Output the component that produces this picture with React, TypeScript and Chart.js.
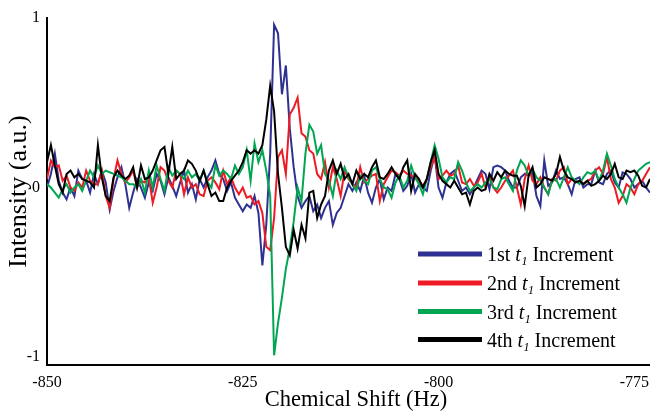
import React, { useEffect, useRef } from 'react';
import { Chart, registerables } from 'chart.js';

Chart.register(...registerables);

// Chemical shift grid (Hz): evenly sampled spectrum
const shiftStart = -850;
const shiftStep = 0.5;

const increment1 = [
  0.0, 0.08, 0.2, 0.04, -0.03, -0.07, 0.0, -0.05, 0.1, 0.05,
  0.04, -0.03, 0.08, 0.02, 0.1, 0.03, -0.13, -0.02, 0.06, 0.12,
  0.02, -0.12, -0.03, 0.05, 0.0, -0.06, 0.03, -0.02, 0.08, 0.04,
  -0.04, 0.06, 0.01, -0.05, 0.03, 0.1, -0.03, 0.02, -0.07, 0.05,
  0.0, 0.06, 0.1, 0.16, 0.08, 0.05, -0.02, 0.03, -0.06, -0.1,
  -0.14, -0.1, -0.12, -0.05, -0.15, -0.46, -0.22, 0.2, 0.96, 0.91,
  0.55, 0.72, 0.35, 0.12, -0.05, -0.12, -0.08, -0.05, -0.14, -0.1,
  -0.18, -0.12, -0.08, -0.22, -0.15, -0.12, -0.05, 0.02, -0.02, 0.03,
  -0.02, 0.07, -0.03, -0.09, 0.0, 0.05, -0.07, 0.0, -0.02, 0.08,
  0.05, -0.02, 0.01, 0.08, -0.03, 0.02, 0.0, -0.02, 0.1, 0.19,
  0.0, -0.06, 0.03, 0.08, 0.1, 0.04, -0.02, 0.0, -0.04, 0.0,
  0.05, 0.1, 0.08, -0.01, 0.12, 0.13, 0.12, 0.1, 0.04, 0.0,
  0.0, 0.06, 0.08, 0.07, 0.09, -0.05, -0.11, 0.16, 0.01, 0.03,
  0.1, 0.05, 0.06, 0.02, -0.04, 0.05, 0.06, 0.0, 0.02, 0.02,
  0.1, 0.03, 0.02, 0.08, 0.1, 0.03, 0.0, 0.09, 0.08, 0.05,
  0.0, 0.02, 0.04, 0.0, -0.03, -0.02,
];

const increment2 = [
  0.05, 0.16, 0.12, 0.13, 0.04, 0.07, 0.0, -0.02, 0.03, 0.0,
  0.1, 0.04, 0.02, 0.02, 0.1, -0.05, -0.12, 0.05, 0.16, 0.08,
  0.03, 0.06, 0.1, 0.0, 0.04, 0.03, 0.06, -0.09, 0.0, 0.12,
  0.1, 0.04, 0.0, 0.1, 0.08, -0.04, 0.06, 0.0, 0.02, -0.04,
  -0.05, 0.04, 0.06, 0.03, -0.01, 0.1, 0.02, 0.06, 0.0, -0.04,
  0.0, -0.06, -0.05, -0.1, -0.08, -0.15, -0.35, -0.37, -0.18, 0.18,
  0.22, 0.08, 0.43, 0.47, 0.53, 0.32, 0.3, 0.22, 0.2, 0.08,
  0.05, 0.15, 0.0, 0.12, 0.05, -0.05, 0.1, 0.05, 0.02, 0.0,
  0.12, 0.03, 0.05, 0.07, 0.08, -0.08, 0.02, 0.06, 0.1, 0.09,
  0.07, 0.1, 0.08, 0.07, 0.06, 0.04, 0.01, 0.05, 0.12, 0.18,
  0.05, 0.07, 0.1, 0.07, 0.08, 0.13, 0.03, 0.02, 0.05, 0.01,
  0.03, 0.08, 0.0, 0.07, 0.0, -0.03, 0.0, 0.04, 0.07, 0.1,
  0.0, -0.1, 0.05, 0.13, 0.04, 0.02, 0.06, 0.0, -0.04, 0.05,
  0.04, 0.1, 0.12, 0.02, 0.05, 0.03, 0.04, 0.02, 0.04, 0.05,
  0.1, 0.12, 0.08, 0.18, 0.05, 0.0, -0.09, -0.05, 0.02, 0.0,
  -0.04, 0.02, 0.04, 0.08, 0.12, 0.14,
];

const increment3 = [
  0.02, 0.0, -0.03, -0.06, -0.01, 0.02, -0.03, 0.0, 0.02, -0.02,
  0.04, 0.1, 0.06, 0.13, 0.08, 0.1, 0.09, 0.08, 0.07, 0.06,
  0.04, 0.02, 0.02, 0.0, 0.05, -0.03, 0.1, 0.0, 0.13, 0.05,
  -0.02, 0.12, 0.07, 0.1, 0.08, 0.05, 0.1, 0.06, 0.08, 0.04,
  0.1, 0.03, 0.0, 0.13, 0.07, 0.1, 0.08, 0.05, 0.13, 0.08,
  0.12, 0.22, 0.04, 0.26, 0.15, 0.22, 0.1, -0.05, -0.99, -0.8,
  -0.65, -0.48, -0.36, -0.2, 0.0, -0.08, 0.2, 0.37, 0.33, 0.2,
  0.25, 0.08, 0.04, -0.05, 0.1, 0.05, 0.12, 0.06, 0.02, -0.02,
  0.07, 0.04, 0.02, 0.1, 0.12, 0.05, 0.0, -0.01, -0.06, 0.03,
  0.07, 0.0, 0.04, 0.13, 0.06, 0.02, -0.04, 0.05, 0.15, 0.25,
  0.17, 0.06, 0.03, 0.06, 0.05, 0.15, 0.1, 0.03, -0.02, 0.0,
  0.02, 0.0, 0.03, 0.05, 0.0, -0.01, 0.05, 0.06, 0.02, -0.02,
  0.1, 0.16, 0.13, 0.07, 0.11, 0.06, 0.04, 0.0, -0.04, 0.04,
  0.05, 0.0, 0.06, 0.12, 0.06, 0.04, 0.02, 0.06, 0.09, 0.08,
  0.1, 0.04, 0.1, 0.2, 0.13, 0.05, 0.0, -0.04, -0.09, 0.0,
  0.05, 0.1, 0.12, 0.14, 0.15, 0.14,
];

const increment4 = [
  0.15, 0.25, 0.13, 0.02, -0.03, 0.08, 0.1, 0.06, 0.08, 0.05,
  0.04, 0.03, 0.0, 0.25, 0.06, -0.05, -0.08, 0.06, 0.1, 0.07,
  0.05, 0.07, 0.12, 0.0, 0.13, 0.05, 0.06, 0.1, 0.16, 0.22,
  0.24, 0.08, 0.24, 0.05, 0.08, 0.1, 0.16, 0.14, 0.1, 0.04,
  0.1, 0.02, -0.05, -0.03, -0.08, -0.08, 0.0, 0.04, 0.07, 0.1,
  0.15, 0.22, 0.2, 0.22, 0.2, 0.25, 0.4, 0.6, 0.45, 0.08,
  -0.12, -0.35, -0.4, -0.25, -0.36, -0.22, -0.3, -0.03, -0.02, -0.18,
  -0.1, -0.05, 0.1, 0.16, 0.08, 0.14, 0.05, 0.08, 0.02, 0.1,
  0.05, 0.08, 0.06, 0.12, 0.16, 0.06, 0.05, 0.08, 0.12, 0.08,
  0.05, 0.12, 0.16, -0.02, 0.08, 0.05, 0.0, 0.05, 0.15, 0.22,
  0.08, 0.04, 0.02, 0.0, 0.04, 0.0, -0.04, -0.03, -0.1, -0.02,
  0.0, -0.02, -0.01, 0.08, 0.04, 0.09, 0.06, 0.1, 0.08, 0.07,
  0.07, 0.01, -0.11, 0.07, 0.12, 0.0, 0.02, 0.06, 0.05, 0.04,
  0.08, 0.18, 0.1, 0.06, 0.05, 0.03, 0.04, 0.02, 0.04, 0.01,
  0.02, 0.04, 0.07, 0.05, 0.08, 0.14, 0.06, 0.05, 0.1, 0.09,
  0.1, 0.07, 0.01, 0.0, 0.05, 0.07,
];

const chemicalShift = increment1.map((_, i) => shiftStart + shiftStep * i);
const xTicks = [-850, -825, -800, -775];
const yTicks = [-1, 0, 1];
const seriesOrdinals = ['1st', '2nd', '3rd', '4th'];
const seriesColors = ['#2E3192', '#ED1C24', '#00A651', '#000000'];
const seriesValues = [increment1, increment2, increment3, increment4];
const xTitle = 'Chemical Shift (Hz)';
const yTitle = 'Intensity (a.u.)';

const SERIF = '"Liberation Serif", "Times New Roman", serif';

const annotationPlugin = {
  id: 'incrementLegend',
  afterDraw(chart: any) {
    const { ctx, chartArea } = chart;
    ctx.save();
    // x axis title
    ctx.fillStyle = '#000';
    ctx.font = `22.5px ${SERIF}`;
    ctx.textAlign = 'center';
    ctx.textBaseline = 'middle';
    ctx.fillText(xTitle, (chartArea.left + chartArea.right) / 2 + 7.5, chart.height - 10.5);

    // legend
    const rowOffsets = [111, 82, 53.5, 25.5];
    const lineStart = chartArea.right - 232;
    const lineEnd = chartArea.right - 168;
    const textStart = chartArea.right - 163;
    chart.data.datasets.forEach((ds: any, i: number) => {
      const y = chartArea.bottom - rowOffsets[i];
      ctx.strokeStyle = ds.borderColor;
      ctx.lineWidth = 5;
      ctx.lineCap = 'butt';
      ctx.beginPath();
      ctx.moveTo(lineStart, y);
      ctx.lineTo(lineEnd, y);
      ctx.stroke();
      const base = y + 7;
      let x = textStart;
      ctx.fillStyle = '#000';
      ctx.textBaseline = 'alphabetic';
      ctx.textAlign = 'left';
      ctx.font = `20px ${SERIF}`;
      const first = seriesOrdinals[i] + ' ';
      ctx.fillText(first, x, base);
      x += ctx.measureText(first).width;
      ctx.font = `italic 20px ${SERIF}`;
      ctx.fillText('t', x, base);
      x += ctx.measureText('t').width + 0.5;
      ctx.font = `italic 12px ${SERIF}`;
      ctx.fillText('1', x, base + 4);
      x += ctx.measureText('1').width;
      ctx.font = `20px ${SERIF}`;
      ctx.fillText(' Increment', x, base);
    });
    ctx.restore();
  },
};

export default function App() {
  const canvasRef = useRef<HTMLCanvasElement | null>(null);

  useEffect(() => {
    const canvas = canvasRef.current;
    if (!canvas) return;
    const chart = new Chart(canvas, {
      type: 'line',
      data: {
        datasets: seriesValues.map((vals, i) => ({
          label: `${seriesOrdinals[i]} t1 Increment`,
          data: vals.map((v, j) => ({ x: chemicalShift[j], y: v })),
          borderColor: seriesColors[i],
          backgroundColor: seriesColors[i],
          borderWidth: 2,
          pointRadius: 0,
          tension: 0,
          fill: false,
          order: 4 - i,
        })),
      },
      options: {
        animation: false,
        responsive: false,
        maintainAspectRatio: false,
        layout: { padding: { top: 18, right: 0, bottom: 0, left: 0 } },
        plugins: {
          legend: { display: false },
          tooltip: { enabled: false },
        },
        scales: {
          x: {
            type: 'linear',
            min: -850,
            max: -773,
            grid: { display: false, drawTicks: false },
            border: { display: true, color: '#000', width: 2 },
            afterBuildTicks: (scale: any) => {
              scale.ticks = xTicks.map((v) => ({ value: v }));
            },
            afterFit: (scale: any) => {
              scale.height = 46;
              scale.paddingLeft = 0;
              scale.paddingRight = 0;
            },
            ticks: {
              color: '#000',
              font: { family: SERIF, size: 16 },
              padding: 8,
              maxRotation: 0,
              autoSkip: false,
              callback: (v: any) => String(v),
            },
            title: { display: false },
          },
          y: {
            type: 'linear',
            min: -1.047,
            max: 1,
            grid: { display: false, drawTicks: false },
            border: { display: true, color: '#000', width: 2 },
            afterBuildTicks: (scale: any) => {
              scale.ticks = yTicks.map((v) => ({ value: v }));
            },
            afterFit: (scale: any) => {
              scale.width = 47;
              scale.paddingTop = 0;
              scale.paddingBottom = 0;
            },
            ticks: {
              color: '#000',
              font: { family: SERIF, size: 16 },
              padding: 7,
              autoSkip: false,
              callback: (v: any) => String(v),
            },
            title: {
              display: true,
              text: yTitle,
              color: '#000',
              font: { family: SERIF, size: 26, lineHeight: 1 },
              padding: { top: 6, bottom: 0 },
            },
          },
        },
      },
      plugins: [annotationPlugin],
    });
    return () => chart.destroy();
  }, []);

  return (
    <div style={{ position: 'fixed', left: 0, top: 0, width: 650, height: 411, background: '#fff' }}>
      <canvas ref={canvasRef} width={650} height={411} style={{ display: 'block', width: 650, height: 411 }} />
    </div>
  );
}
